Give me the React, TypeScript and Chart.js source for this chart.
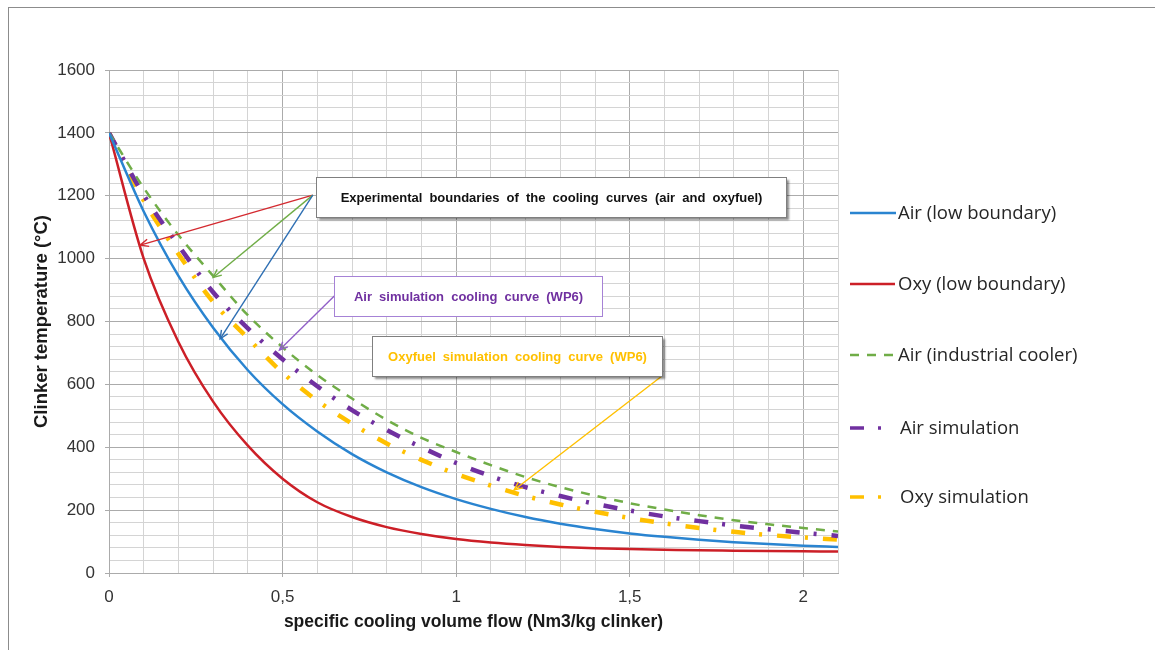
import React, { useEffect, useRef } from "react";
import { Chart, registerables } from "chart.js";

Chart.register(...registerables);

// Specific cooling volume flow (Nm3/kg clinker)
const flowValues = [0, 0.1, 0.2, 0.3, 0.4, 0.5, 0.6, 0.7, 0.8, 0.9, 1.0, 1.1, 1.2, 1.3, 1.4, 1.5, 1.6, 1.7, 1.8, 1.9, 2.0, 2.1];

// Clinker temperature (°C) for each curve
const airLowBoundary = [1400, 1150, 945, 780, 645, 537, 450, 378, 320, 273, 235, 204, 178, 157, 140, 126, 115, 106, 98, 92, 87, 83];
const oxyLowBoundary = [1400, 1000, 735, 545, 405, 300, 225, 178, 146, 124, 108, 97, 89, 83, 79, 76, 74, 72, 71, 70, 69, 68];
const airIndustrialCooler = [1400, 1225, 1075, 945, 820, 718, 630, 555, 487, 430, 385, 343, 305, 273, 246, 222, 202, 184, 168, 155, 143, 132];
const airSimulation = [1400, 1202, 1042, 893, 778, 680, 594, 518, 455, 400, 350, 308, 273, 245, 220, 199, 180, 165, 151, 139, 128, 118];
const oxySimulation = [1400, 1185, 1015, 862, 747, 637, 548, 475, 412, 360, 315, 278, 245, 218, 195, 175, 158, 143, 131, 121, 113, 106];

const seriesLabels = [
  "Air (low boundary)",
  "Oxy (low boundary)",
  "Air (industrial cooler)",
  "Air simulation",
  "Oxy simulation",
];

const xTitle = "specific cooling volume flow (Nm3/kg clinker)";
const yTitle = "Clinker temperature (°C)";

// Callout notes: box corners and arrow ends in data units
const noteTexts = [
  "Experimental boundaries of the cooling curves (air and oxyfuel)",
  "Air simulation cooling curve (WP6)",
  "Oxyfuel simulation cooling curve (WP6)",
];
const noteBoxes = [
  { x0: 0.595, x1: 1.951, y0: 1259, y1: 1132 },
  { x0: 0.649, x1: 1.42, y0: 944, y1: 817 },
  { x0: 0.759, x1: 1.592, y0: 754, y1: 626 },
];
const noteArrows = [
  { from: [0.587, 1202], to: [0.09, 1043], color: "#d42a30" },
  { from: [0.587, 1202], to: [0.3, 940], color: "#70ad47" },
  { from: [0.587, 1202], to: [0.32, 745], color: "#2e6fb3" },
  { from: [0.649, 881], to: [0.491, 709], color: "#9160c8" },
  { from: [1.592, 626], to: [1.167, 264], color: "#ffc000" },
];

const TICK_FONT = "Liberation Sans, Arial, sans-serif";
const LEGEND_FONT = "'Open Sans', 'Noto Sans', sans-serif";

const isMultiple = (v: number, step: number) => Math.abs(v / step - Math.round(v / step)) < 1e-6;

const notesAndKey = {
  id: "notesAndKey",
  afterDatasetsDraw(chart: any) {
    const { ctx, scales } = chart;
    const xs = scales.x;
    const ys = scales.y;
    const px = (v: number) => xs.getPixelForValue(v);
    const py = (v: number) => ys.getPixelForValue(v);

    // arrows
    ctx.save();
    noteArrows.forEach((a) => {
      const x0 = px(a.from[0]);
      const y0 = py(a.from[1]);
      const x1 = px(a.to[0]);
      const y1 = py(a.to[1]);
      ctx.strokeStyle = a.color;
      ctx.lineWidth = 1.4;
      ctx.beginPath();
      ctx.moveTo(x0, y0);
      ctx.lineTo(x1, y1);
      ctx.stroke();
      const ang = Math.atan2(y1 - y0, x1 - x0);
      const len = 9;
      const spread = 0.42;
      ctx.beginPath();
      ctx.moveTo(x1 - len * Math.cos(ang - spread), y1 - len * Math.sin(ang - spread));
      ctx.lineTo(x1, y1);
      ctx.lineTo(x1 - len * Math.cos(ang + spread), y1 - len * Math.sin(ang + spread));
      ctx.stroke();
    });
    ctx.restore();

    // note boxes
    const boxStyles = [
      { border: "#7f7f7f", text: "#111111", shadow: true },
      { border: "#a682d6", text: "#7030a0", shadow: false },
      { border: "#7f7f7f", text: "#ffc000", shadow: true },
    ];
    noteBoxes.forEach((b, i) => {
      const left = Math.round(px(b.x0)) + 0.5;
      const right = Math.round(px(b.x1)) + 0.5;
      const top = Math.round(py(b.y0)) + 0.5;
      const bottom = Math.round(py(b.y1)) + 0.5;
      const st = boxStyles[i];
      ctx.save();
      if (st.shadow) {
        ctx.shadowColor = "rgba(0,0,0,0.45)";
        ctx.shadowOffsetX = 2;
        ctx.shadowOffsetY = 2;
        ctx.shadowBlur = 2;
      }
      ctx.fillStyle = "#ffffff";
      ctx.fillRect(left, top, right - left, bottom - top);
      ctx.restore();
      ctx.save();
      ctx.strokeStyle = st.border;
      ctx.lineWidth = 1;
      ctx.strokeRect(left, top, right - left, bottom - top);
      ctx.fillStyle = st.text;
      ctx.font = `bold 13px ${TICK_FONT}`;
      (ctx as any).wordSpacing = "3.5px";
      ctx.textAlign = "center";
      ctx.textBaseline = "middle";
      ctx.fillText(noteTexts[i], (left + right) / 2, (top + bottom) / 2 + 1);
      ctx.restore();
    });

    // key on the right, drawn from each dataset's own stroke style
    const keyRows = [213, 284, 355, 428, 497];
    const keyEnds = [896, 895, 896, 882, 882];
    chart.data.datasets.forEach((ds: any, i: number) => {
      const y = keyRows[i];
      ctx.save();
      ctx.strokeStyle = ds.borderColor;
      ctx.lineWidth = Math.min(ds.borderWidth, 3.5);
      ctx.setLineDash(ds.borderDash || []);
      ctx.lineCap = "butt";
      ctx.beginPath();
      ctx.moveTo(850, y);
      ctx.lineTo(keyEnds[i], y);
      ctx.stroke();
      ctx.setLineDash([]);
      ctx.fillStyle = "#262626";
      ctx.font = `18.5px ${LEGEND_FONT}`;
      ctx.textAlign = "left";
      ctx.textBaseline = "middle";
      ctx.fillText(ds.label, i >= 3 ? 900 : 898, y + 1);
      ctx.restore();
    });
  },
};

export default function App() {
  const canvasRef = useRef<HTMLCanvasElement | null>(null);

  useEffect(() => {
    const canvas = canvasRef.current;
    if (!canvas) return;

    const toPoints = (vals: number[]) => flowValues.map((x, i) => ({ x, y: vals[i] }));
    const simDash = [14, 14, 3, 15];
    const major = "#ababab";
    const minor = "#d4d4d4";

    const chart = new Chart(canvas, {
      type: "line",
      data: {
        datasets: [
          { label: seriesLabels[0], data: toPoints(airLowBoundary), borderColor: "#2a84d0", borderWidth: 2.5 },
          { label: seriesLabels[1], data: toPoints(oxyLowBoundary), borderColor: "#cc1f27", borderWidth: 2.5 },
          { label: seriesLabels[2], data: toPoints(airIndustrialCooler), borderColor: "#70ad47", borderWidth: 2.5, borderDash: [9, 8] },
          { label: seriesLabels[3], data: toPoints(airSimulation), borderColor: "#7030a0", borderWidth: 4.5, borderDash: simDash },
          { label: seriesLabels[4], data: toPoints(oxySimulation), borderColor: "#ffc000", borderWidth: 4.5, borderDash: simDash },
        ] as any,
      },
      options: {
        animation: false,
        responsive: false,
        maintainAspectRatio: false,
        layout: { padding: { left: 0, top: 70, right: 317, bottom: 0 } },
        elements: {
          point: { radius: 0 },
          line: { cubicInterpolationMode: "monotone", fill: false },
        },
        plugins: {
          legend: { display: false },
          tooltip: { enabled: false },
        },
        scales: {
          x: {
            type: "linear",
            min: 0,
            max: 2.1,
            afterFit: (s: any) => {
              s.height = 77;
            },
            ticks: {
              stepSize: 0.1,
              autoSkip: false,
              maxRotation: 0,
              padding: 10,
              color: "#333333",
              font: { family: TICK_FONT, size: 17 },
              callback: (v: any) => {
                const n = Number(v);
                if (!isMultiple(n, 0.5)) return "";
                return String(Math.round(n * 2) / 2).replace(".", ",");
              },
            },
            grid: {
              color: (c: any) => (c.tick && isMultiple(c.tick.value, 0.5) ? major : minor),
              tickColor: (c: any) => (c.tick && isMultiple(c.tick.value, 0.5) ? major : "rgba(0,0,0,0)"),
              tickLength: 4,
              lineWidth: 1,
            },
            border: { color: major },
            title: {
              display: true,
              text: xTitle,
              color: "#1a1a1a",
              font: { family: TICK_FONT, size: 17.5, weight: "bold" },
              padding: { top: 0, bottom: 17 },
            },
          },
          y: {
            type: "linear",
            min: 0,
            max: 1600,
            afterFit: (s: any) => {
              s.width = 109;
            },
            ticks: {
              stepSize: 40,
              autoSkip: false,
              padding: 10,
              color: "#333333",
              font: { family: TICK_FONT, size: 17 },
              callback: (v: any) => {
                const n = Number(v);
                return isMultiple(n, 200) ? String(Math.round(n)) : "";
              },
            },
            grid: {
              color: (c: any) => (c.tick && isMultiple(c.tick.value, 200) ? major : minor),
              tickColor: (c: any) => (c.tick && isMultiple(c.tick.value, 200) ? major : "rgba(0,0,0,0)"),
              tickLength: 4,
              lineWidth: 1,
            },
            border: { color: major },
            title: {
              display: true,
              text: yTitle,
              color: "#1a1a1a",
              font: { family: TICK_FONT, size: 18.5, weight: "bold" },
              padding: { top: 31, bottom: 0 },
            },
          },
        },
      } as any,
      plugins: [notesAndKey],
    });

    return () => chart.destroy();
  }, []);

  return (
    <div style={{ position: "fixed", left: 0, top: 0, width: 1155, height: 650, background: "#ffffff", overflow: "hidden" }}>
      <div
        style={{
          position: "absolute",
          left: 8,
          top: 7,
          width: 1200,
          height: 700,
          borderLeft: "1px solid #8c8c8c",
          borderTop: "1px solid #8c8c8c",
        }}
      />
      <canvas ref={canvasRef} width={1155} height={650} style={{ position: "absolute", left: 0, top: 0, width: 1155, height: 650 }} />
    </div>
  );
}
